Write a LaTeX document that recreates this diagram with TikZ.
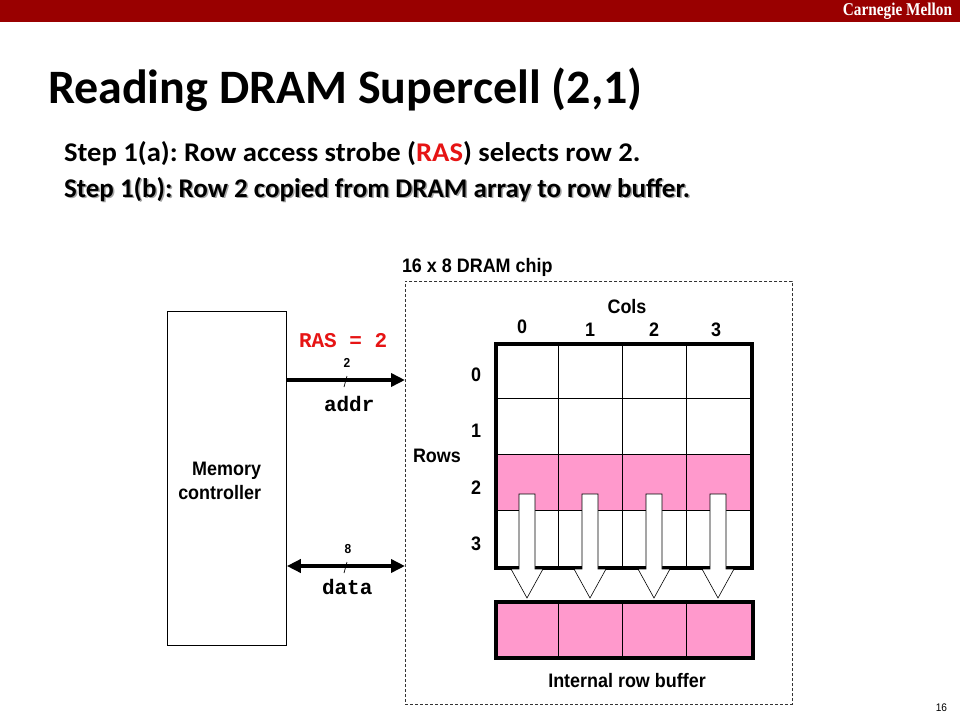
\documentclass[tikz,border=0pt]{standalone}
\usepackage{fontspec}
\usepackage{graphicx}
\setmainfont{Liberation Sans}
\newfontfamily\calfont{Carlito}
\newfontfamily\calwide[FakeStretch=1.06]{Carlito}
\newfontfamily\arialn[FakeStretch=0.92]{Liberation Sans}
\newfontfamily\courfont{Liberation Mono}
\newfontfamily\timesn[FakeStretch=0.85]{Liberation Serif}
\usetikzlibrary{arrows.meta}
\definecolor{cmured}{RGB}{153,0,0}
\definecolor{cellpink}{RGB}{255,153,204}
\definecolor{rasred}{RGB}{230,20,20}
\tikzset{
  txt/.style={inner sep=0pt, outer sep=0pt},
  lab/.style={txt, font=\arialn\bfseries\fontsize{19.5}{24}\selectfont},
  smalllab/.style={txt, font=\arialn\bfseries\fontsize{13}{15}\selectfont},
  mono/.style={txt, font=\courfont\bfseries\fontsize{21}{24}\selectfont},
  steptext/.style={txt, anchor=base west, font=\calwide\bfseries\fontsize{27}{32}\selectfont},
  thickbus/.style={line width=3.5pt},
  cellline/.style={line width=0.8pt},
  border/.style={line width=4pt},
  blockarrow/.style={draw=black, fill=white, line width=0.6pt, line join=miter},
  slash/.style={line width=0.7pt},
}
\frenchspacing
\newcommand{\stepbtext}{\scalebox{0.944}[1]{Step 1(b): Row 2 copied from DRAM array to row buffer.}}
\begin{document}
\begin{tikzpicture}[x=1pt,y=-1pt]
\useasboundingbox (0,0) rectangle (960,720);
\fill[white] (0,0) rectangle (960,720);
% header bar
\fill[cmured] (0,0) rectangle (960,22);
\node[txt, anchor=base east, text=white, font=\timesn\bfseries\fontsize{18}{20}\selectfont] (cmu) at (952,16) {Carnegie Mellon};
% title
\node[txt, anchor=base west, font=\calfont\bfseries\fontsize{48}{54}\selectfont] (title) at (48,103) {Reading DRAM Supercell (2,1)};
\node[steptext] (stepa) at (64,161) {Step 1(a): Row access strobe (\textcolor{rasred}{RAS}) selects row 2.};
\node[steptext, text=black!35] (stepbshadow) at (65.5,198.5) {\stepbtext};
\node[steptext] (stepb) at (64,197) {\stepbtext};
% chip box
\node[draw=black!80, dashed, dash pattern=on 3pt off 2pt, line width=0.6pt, minimum width=387pt, minimum height=423pt, anchor=north west, inner sep=0pt] (chip) at (405,281) {};
\node[lab, anchor=base west] (chiplab) at (402,272) {16 x 8 DRAM chip};
% memory controller
\node[draw, line width=0.8pt, minimum width=119pt, minimum height=334pt, anchor=north west, inner sep=0pt] (mc) at (167,311) {};
\node[lab, anchor=east, align=right] (mctext) at (261,481) {Memory\\controller};
% buses
\coordinate (addrA) at (mc.east |- 0,380);
\coordinate (addrB) at (chip.west |- 0,380);
\draw[thickbus, -{Triangle[length=14pt,width=13pt]}] (addrA) -- (addrB);
\coordinate (dataA) at (mc.east |- 0,566);
\coordinate (dataB) at (chip.west |- 0,566);
\draw[thickbus, {Triangle[length=14pt,width=13pt]}-{Triangle[length=14pt,width=13pt]}] (dataA) -- (dataB);
\coordinate (s1a) at (344,387); \coordinate (s1b) at (347,376);
\draw[slash] (s1a) -- (s1b);
\coordinate (s2a) at (344,573); \coordinate (s2b) at (347,562);
\draw[slash] (s2a) -- (s2b);
\node[mono, anchor=base west, text=rasred] (ras) at (299,347) {RAS = 2};
\node[smalllab, anchor=base] (w2) at (347,367) {2};
\node[mono, anchor=base west] (addr) at (324,411) {addr};
\node[smalllab, anchor=base] (w8) at (348,553) {8};
\node[mono, anchor=base west] (data) at (322,594) {data};
% DRAM array
\fill[cellpink] (494,454) rectangle (750,510);
\foreach \x in {558,622,686} \draw[cellline] (\x,342) -- (\x,566);
\foreach \y in {398,454,510} \draw[cellline] (494,\y) -- (750,\y);
\node[draw, border, minimum width=256pt, minimum height=224pt, anchor=north west, inner sep=0pt] (array) at (494,342) {};
% row buffer
\fill[cellpink] (494,600) rectangle (751,656);
\foreach \x in {558,622,686} \draw[cellline] (\x,600) -- (\x,656);
\node[draw, border, minimum width=257pt, minimum height=56pt, anchor=north west, inner sep=0pt] (rowbuf) at (494,600) {};
% labels
\node[lab, anchor=base] (cols) at (627,313) {Cols};
\node[lab, anchor=base] (c0) at (522,333) {0};
\node[lab, anchor=base] (c1) at (590,336) {1};
\node[lab, anchor=base] (c2) at (654,336) {2};
\node[lab, anchor=base] (c3) at (716,336) {3};
\node[lab, anchor=base] (r0) at (476,381) {0};
\node[lab, anchor=base] (r1) at (476,437) {1};
\node[lab, anchor=base] (r2) at (476,494) {2};
\node[lab, anchor=base] (r3) at (476,550) {3};
\node[lab, anchor=base west] (rows) at (413,462) {Rows};
\node[lab, anchor=base] (irb) at (627,687) {Internal row buffer};
% block arrows
\foreach \c in {527,590,654,718} {
  \draw[blockarrow] (\c-8,494) -- (\c+8,494) -- (\c+8,569) -- (\c+16,569) -- (\c,598) -- (\c-16,569) -- (\c-8,569) -- cycle;
}
% page number
\node[txt, anchor=base east, font=\arialn\fontsize{11}{13}\selectfont] (pg) at (947,711) {16};
\end{tikzpicture}
\end{document}
